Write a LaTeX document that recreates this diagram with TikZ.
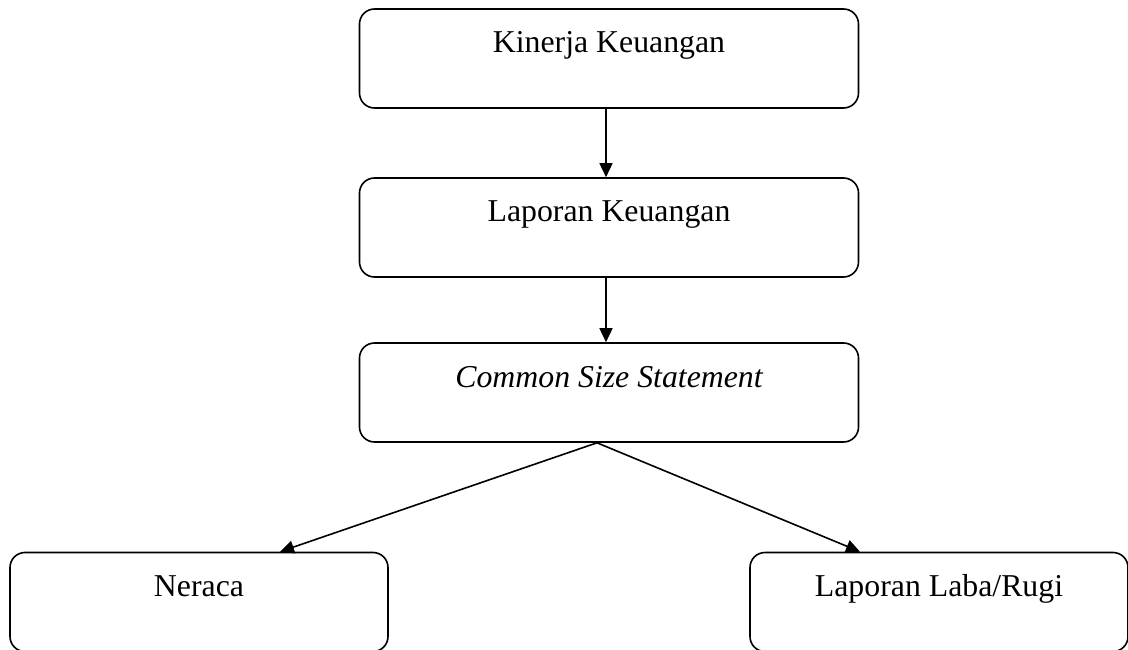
\documentclass[tikz,border=0pt]{standalone}
\usepackage{fontspec}
\setmainfont{Liberation Serif}
\usepackage{tikz}
\usetikzlibrary{arrows.meta, calc, positioning}

\tikzset{
    kotak/.style={draw, line width=1.6pt, rounded corners=15pt, inner xsep=0pt, inner ysep=0pt,
                  text height=44pt, text depth=55pt, font=\fontsize{31.8}{36}\selectfont},
    lebar/.style={kotak, minimum width=499pt},
    sempit/.style={kotak, minimum width=378pt},
    panah/.style={line width=1.6pt, -{Triangle[length=14pt,width=13pt]}}
}

\begin{document}
\begin{tikzpicture}[x=1pt,y=-1pt]
    \useasboundingbox (0,0) rectangle (1128,650);

    \node[lebar] (kinerja) at (609,58.5) {Kinerja Keuangan};
    \node[lebar] (laporan) at (609,227.5) {Laporan Keuangan};
    \node[lebar] (common) at (609,392.5) {\itshape Common Size Statement};
    \node[sempit] (neraca) at (199,602) {Neraca};
    \node[sempit] (labarugi) at (939,602) {Laporan Laba/Rugi};

    \draw[panah] ([xshift=-3pt]kinerja.south) -- ([xshift=-3pt]laporan.north);
    \draw[panah] ([xshift=-3pt]laporan.south) -- ([xshift=-3pt]common.north);

    \coordinate (cabang) at ([xshift=-12pt]common.south);
    \draw[panah] (cabang) -- ([xshift=81pt]neraca.north);
    \draw[panah] (cabang) -- ([xshift=-79pt]labarugi.north);
\end{tikzpicture}
\end{document}
